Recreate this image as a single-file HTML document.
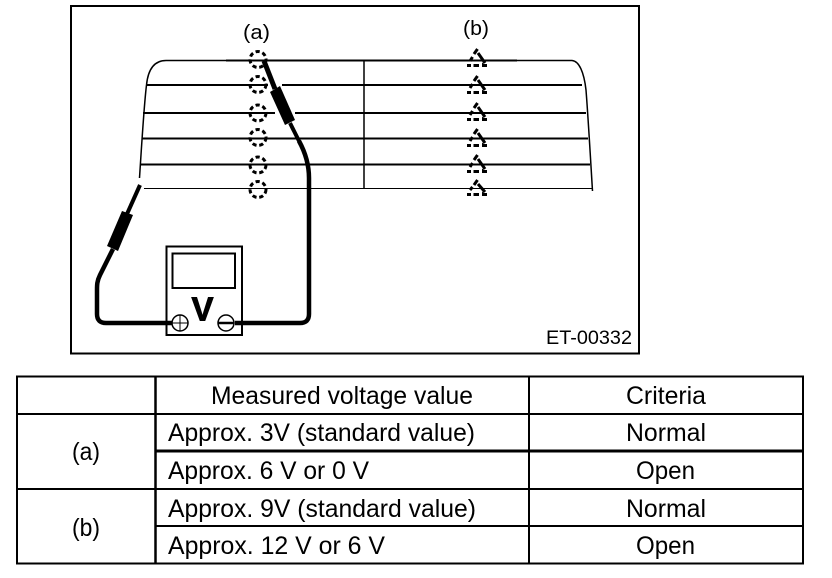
<!DOCTYPE html>
<html>
<head>
<meta charset="utf-8">
<style>
html,body{margin:0;padding:0;background:#fff;width:832px;height:578px;overflow:hidden}
svg{display:block}
text{font-family:"Liberation Sans",sans-serif;fill:#000}
</style>
</head>
<body>
<svg width="832" height="578" viewBox="0 0 832 578" xmlns="http://www.w3.org/2000/svg">
<rect width="832" height="578" fill="#fff"/>
<!-- frame -->
<rect x="71" y="6" width="568" height="347.5" fill="none" stroke="#000" stroke-width="2"/>

<!-- window outline -->
<path d="M226 60.500H166C154 60.500 148 70 146.500 85C144 105 142 140 139.500 178" fill="none" stroke="#000" stroke-width="1.500"/>
<path d="M517 60.500H572C579 61 584 72 586 90C588 115 590 150 592.500 191" fill="none" stroke="#000" stroke-width="1.500"/>

<!-- heat lines -->
<g stroke="#000" fill="none">
<path d="M226 60.500H517" stroke-width="2"/>
<path d="M147 85H268M282 85H582" stroke-width="2"/>
<path d="M143 113H275M295 113H586" stroke-width="2"/>
<path d="M142 138.500H588" stroke-width="2"/>
<path d="M140 164.500H590" stroke-width="2"/>
<path d="M144 188.500H592" stroke-width="1"/>
<path d="M364 60V188.500" stroke-width="1.500"/>
</g>

<!-- dashed circles -->
<g fill="none" stroke="#000" stroke-width="3" stroke-dasharray="4.200 2.800">
<circle cx="258" cy="59.500" r="8"/>
<circle cx="258" cy="84.500" r="8"/>
<circle cx="258" cy="113" r="8"/>
<circle cx="258" cy="137.500" r="8"/>
<circle cx="258" cy="165" r="8"/>
<circle cx="258" cy="189.500" r="8"/>
</g>

<!-- dashed triangles -->
<g fill="none" stroke="#000" stroke-width="3">
<path d="M477.500 49L474 54M478 53L485 63M472.500 57L470 61M467 65.500H471M473.500 65.500H479M482 65.500H487"/>
<path d="M477.500 76L474 81M478 80L485 90M472.500 84L470 88M467 92.500H471M473.500 92.500H479M482 92.500H487"/>
<path d="M477.500 103L474 108M478 107L485 117M472.500 111L470 115M467 119.500H471M473.500 119.500H479M482 119.500H487"/>
<path d="M477.500 129L474 134M478 133L485 143M472.500 137L470 141M467 145.500H471M473.500 145.500H479M482 145.500H487"/>
<path d="M477.500 155L474 160M478 159L485 169M472.500 163L470 167M467 171.500H471M473.500 171.500H479M482 171.500H487"/>
<path d="M477.500 180L474 185M478 184L485 192M472.500 187L470 190M467 194.500H471M473.500 194.500H479M482 194.500H487"/>
</g>
<g fill="#000">
<path d="M482 62.500L487 66.500H482Z M482 89.500L487 93.500H482Z M482 116.500L487 120.500H482Z M482 142.500L487 146.500H482Z M482 168.500L487 172.500H482Z M482 191.500L487 195.500H482Z"/>
</g>

<!-- right probe -->
<path d="M264 61L275 89" stroke="#000" stroke-width="5" fill="none"/>
<polygon points="270,92 280,86 295,120 285,125" fill="#000"/>
<path d="M290 123L300 143" stroke="#000" stroke-width="4" fill="none"/>
<path d="M299 141C305 152 309 165 309 178V314Q309 323 300 323H235" stroke="#000" stroke-width="4.500" fill="none"/>

<!-- left probe -->
<path d="M140 185L127 214" stroke="#000" stroke-width="4" fill="none"/>
<polygon points="122,211 133,215 118,251 107,246" fill="#000"/>
<path d="M113 249L100 275C97 281 97 285 97 290V314Q97 323 106 323H172" stroke="#000" stroke-width="4.500" fill="none"/>

<!-- meter -->
<rect x="166.500" y="246.500" width="75.500" height="88.500" fill="none" stroke="#000" stroke-width="2"/>
<rect x="172.500" y="253.500" width="62.500" height="34.500" fill="none" stroke="#000" stroke-width="2"/>
<circle cx="180" cy="323" r="8" fill="#fff" stroke="#000" stroke-width="1.500"/>
<path d="M172 323H188M180 315V331" stroke="#000" stroke-width="1"/>
<circle cx="226" cy="323" r="8" fill="#fff" stroke="#000" stroke-width="1.500"/>
<path d="M218 323H234" stroke="#000" stroke-width="2.500"/>
<text x="191.500" y="320.500" font-size="33.500" font-weight="700" stroke="#000" stroke-width="0.900" textLength="22" lengthAdjust="spacingAndGlyphs">V</text>

<text x="243" y="39" font-size="20" textLength="27" lengthAdjust="spacingAndGlyphs">(a)</text>
<text x="463" y="35" font-size="20" textLength="26" lengthAdjust="spacingAndGlyphs">(b)</text>
<text x="546" y="344" font-size="19" textLength="86" lengthAdjust="spacingAndGlyphs">ET-00332</text>

<!-- table -->
<g stroke="#000" fill="none">
<rect x="17" y="376.500" width="786" height="187" stroke-width="2"/>
<path d="M155.500 376V564" stroke-width="2.500"/>
<path d="M529 376V564" stroke-width="2"/>
<path d="M17 414H803" stroke-width="2"/>
<path d="M155 451H803" stroke-width="3"/>
<path d="M17 489H803" stroke-width="2"/>
<path d="M155 526H803" stroke-width="2"/>
</g>
<g font-size="25">
<text x="211" y="404" textLength="262" lengthAdjust="spacingAndGlyphs">Measured voltage value</text>
<text x="626" y="404" textLength="80" lengthAdjust="spacingAndGlyphs">Criteria</text>
<text x="168" y="441" textLength="307" lengthAdjust="spacingAndGlyphs">Approx. 3V (standard value)</text>
<text x="626" y="441" textLength="80" lengthAdjust="spacingAndGlyphs">Normal</text>
<text x="168" y="479" textLength="201" lengthAdjust="spacingAndGlyphs">Approx. 6 V or 0 V</text>
<text x="636" y="479" textLength="59" lengthAdjust="spacingAndGlyphs">Open</text>
<text x="168" y="517" textLength="308" lengthAdjust="spacingAndGlyphs">Approx. 9V (standard value)</text>
<text x="626" y="517" textLength="80" lengthAdjust="spacingAndGlyphs">Normal</text>
<text x="168" y="554" textLength="217" lengthAdjust="spacingAndGlyphs">Approx. 12 V or 6 V</text>
<text x="636" y="554" textLength="59" lengthAdjust="spacingAndGlyphs">Open</text>
<text x="72" y="460" textLength="28" lengthAdjust="spacingAndGlyphs">(a)</text>
<text x="72" y="536" textLength="28" lengthAdjust="spacingAndGlyphs">(b)</text>
</g>
</svg>
</body>
</html>
